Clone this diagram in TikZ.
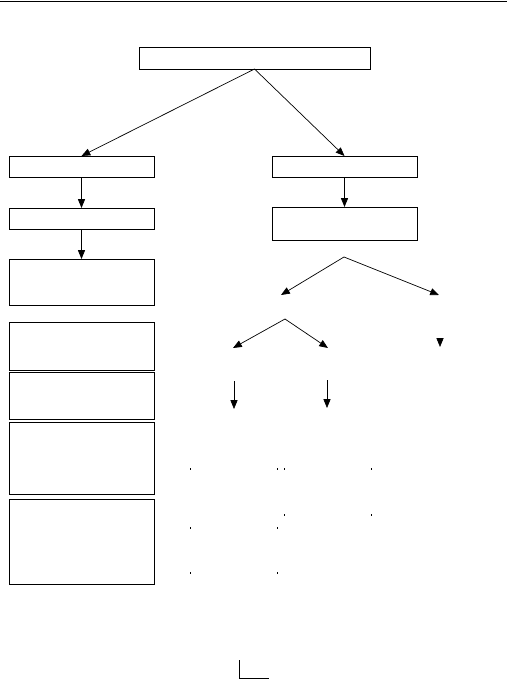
\documentclass[tikz,border=0pt]{standalone}
\usetikzlibrary{arrows.meta,positioning}

\begin{document}
\begin{tikzpicture}[
    x=0.03cm, y=-0.03cm,
    box/.style={draw, line width=0.75pt, inner sep=0pt, outer sep=0pt, minimum width=4.35cm},
    flow/.style={-{Triangle[length=7.5pt, width=6pt]}, line width=0.6pt}
]
\useasboundingbox (0,0) rectangle (507,679);
\draw[line width=0.6pt] (0,1) -- (507,1);
\node[box, minimum width=6.93cm, minimum height=0.66cm] (top) at (254.5,58) {};
\node[box, minimum height=0.63cm] (left1) at (81.5,166.5) {};
\node[box, minimum height=0.63cm] (left2) at (81.5,218.5) {};
\node[box, minimum height=1.38cm] (left3) at (81.5,282) {};
\node[box, minimum height=1.44cm] (left4) at (81.5,346) {};
\node[box, minimum height=1.41cm] (left5) at (81.5,395.5) {};
\node[box, minimum height=2.16cm] (left6) at (81.5,458) {};
\node[box, minimum height=2.55cm] (left7) at (81.5,541.5) {};
\node[box, minimum height=0.63cm] (right1) at (344.5,166.5) {};
\node[box, minimum height=0.99cm] (right2) at (344.5,223.5) {};
\coordinate (split) at (344,257);
\coordinate (splitL) at (281,295);
\coordinate (splitR) at (439,295);
\coordinate (sub) at (285,319);
\coordinate (subL) at (233,348);
\coordinate (subR) at (328,348);
\coordinate (tipA) at (440,338);
\coordinate (tipB) at (440,347);
\coordinate (downLa) at (234,381);
\coordinate (downLb) at (234,409);
\coordinate (downRa) at (327,380);
\coordinate (downRb) at (327,408);
\draw[flow] (top.south) -- (left1.north);
\draw[flow] (top.south) -- (right1.north);
\draw[flow] (left1.south) -- (left2.north);
\draw[flow] (left2.south) -- (left3.north);
\draw[flow] (right1.south) -- (right2.north);
\draw[flow] (split) -- (splitL);
\draw[flow] (split) -- (splitR);
\draw[flow] (sub) -- (subL);
\draw[flow] (sub) -- (subR);
\draw[flow] (tipA) -- (tipB);
\draw[flow] (downLa) -- (downLb);
\draw[flow] (downRa) -- (downRb);
\foreach \px/\py in {190/469, 277/469, 284/469, 371/469, 284/515, 371/515, 190/528, 277/528, 190/573, 277/573}
    \fill (\px-0.5,\py-1) rectangle ++(1,2);
\draw[line width=0.75pt] (239,660) -- (239,678) -- (269,678);
\end{tikzpicture}
\end{document}
